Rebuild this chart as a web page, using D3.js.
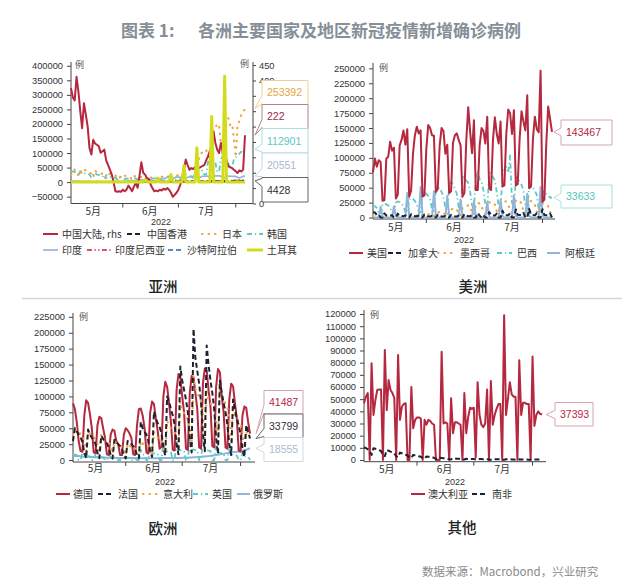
<!DOCTYPE html>
<html><head><meta charset="utf-8">
<script src="https://cdn.jsdelivr.net/npm/d3@7/dist/d3.min.js"></script>
<style>
html,body{margin:0;padding:0;background:#fff;}
svg{display:block;}
</style></head><body>
<svg id="chart" width="640" height="585"></svg>
<script>
// ================= DATA =================
const startDay = "2022-05-04";
const nDays = 95;
const monthLabels = ["5月", "6月", "7月"];
const yearLabel = "2022";

const asiaLeftTicks = [-50000, 0, 50000, 100000, 150000, 200000, 250000, 300000, 350000, 400000];
const asiaRightTicks = [0, 50, 100, 150, 200, 250, 300, 350, 400, 450];
const asiaRightShown = [0, 400, 450]; // the others sit under the value boxes
const americasTicks = [0, 25000, 50000, 75000, 100000, 125000, 150000, 175000, 200000, 225000, 250000];
const europeTicks = [0, 25000, 50000, 75000, 100000, 125000, 150000, 175000, 200000, 225000];
const otherTicks = [0, 10000, 20000, 30000, 40000, 50000, 60000, 70000, 80000, 90000, 100000, 110000, 120000];

// --- Asia ---
const chinaMainland = [ // rhs
  375,345,335,412,364,300,245,326,290,250,180,159,207,195,191,186,165,170,175,140,126,110,95,70,40,38,40,38,
  45,40,45,58,50,40,55,67,51,90,134,100,94,83,80,62,50,40,42,40,45,42,48,45,50,45,35,22,28,35,
  45,60,83,110,143,125,110,115,112,118,121,115,118,122,125,140,153,170,186,234,197,175,164,197,164,150,143,121,118,115,110,
  105,99,108,104,110,222];
const hongKong = [
  300,250,270,260,220,200,280,250,270,250,240,230,220,260,270,250,240,230,260,270,280,300,290,310,320,330,300,350,
  380,420,400,470,510,540,620,640,710,700,780,820,860,930,990,1010,1080,1120,1170,1250,1330,1420,1500,1630,1710,1790,1870,2030,2150,2240,
  2300,2500,2700,2400,2700,2900,3000,3100,2900,3100,3200,3300,3400,3300,3200,3500,3400,3600,3700,3800,4100,4200,4000,4300,4400,4200,4500,4700,4400,4100,4300,
  4600,4400,4500,4200,4700,4428];
const japan = [
  25000,41000,43000,38000,25000,20000,44000,42000,41000,37000,36000,28000,17000,40000,34000,32000,30000,29000,22000,14000,30000,27000,25000,23000,22000,18000,11000,24000,
  24000,22000,21000,19000,16000,9000,21000,19000,18000,17000,17000,15000,8000,19000,17000,16000,15000,16000,13000,8000,17000,18000,19000,20000,21000,18000,9000,22000,24000,23000,
  23000,26000,19000,13000,34000,36000,46000,51000,52000,40000,20000,76000,96000,103000,105000,111000,95000,53000,152000,181000,186000,200000,194000,129000,95000,196000,209000,220000,196000,200000,152000,
  86000,197000,210000,231000,238000,253392];
const korea = [
  38000,36000,35000,34000,20000,38000,35000,30000,29000,28000,26000,15000,30000,32000,26000,25000,23000,21000,10000,24000,23000,18000,17000,16000,15000,9000,14000,18000,
  13000,10000,13000,11000,10000,5000,13000,12000,9000,8000,7000,3400,7000,13000,10000,8000,7000,6000,3500,9000,9000,7000,7000,6000,6000,3000,9000,10000,9000,8000,
  10000,10000,6000,18000,19000,20000,19000,20000,12000,37000,40000,38000,35000,40000,26000,26000,70000,71000,68000,65000,68000,35000,36000,80000,88000,85000,73000,65000,44000,47000,80000,
  85000,92000,98000,105000,100000,112901];
const india = [
  3200,3300,3500,3800,3400,3200,2300,2900,2900,2800,2800,2500,2200,1600,2800,2300,2300,2100,2300,2200,2100,2000,2700,2600,2700,2800,2700,2300,
  2700,3700,4000,4000,4300,4500,4200,3700,5200,7200,7600,8300,8600,6600,6600,8800,12200,12800,12900,12800,12700,9900,12200,13300,17300,17000,15900,11700,14500,18800,
  17100,17000,16100,16100,13000,16200,18900,18800,18800,18200,16700,13600,16900,20100,20000,20500,20000,16900,15500,20600,21500,21900,21400,20300,16900,14800,18300,20600,20400,20400,19700,
  19700,17000,13700,17100,19900,20551];
const indonesia = [
  240,200,210,280,230,190,280,310,300,270,260,190,240,280,300,320,290,220,200,290,330,360,300,280,230,210,290,310,
  390,420,480,520,460,390,590,630,680,700,650,580,620,850,1100,1240,1180,1020,930,1300,1680,1910,1890,1500,1330,1800,2100,2300,2400,2000,
  2100,2450,2500,2000,2900,3000,3200,3400,2700,2600,3200,3400,3600,3500,3300,2700,3800,4600,5000,4800,4200,3900,3000,4500,4800,5300,5000,4500,3800,5200,5500,
  4900,5800,6200,6200,5700,5300];
const saudiArabia = [
  500,520,540,560,530,510,590,600,620,580,550,570,610,640,650,600,620,660,680,700,690,720,740,710,760,780,800,760,
  820,850,890,930,900,880,920,950,980,1010,960,930,990,1050,1100,1080,1020,990,1000,960,930,900,880,860,850,830,800,790,770,760,
  740,720,710,690,670,660,640,610,590,560,550,520,510,490,480,475,460,455,440,430,425,410,405,390,385,370,365,350,345,330,320,
  310,300,305,290,280,275];
const turkey = [
  0,0,0,0,0,0,0,0,0,0,0,0,0,0,0,0,0,0,0,0,0,0,0,0,0,0,0,0,
  0,0,0,0,0,0,0,0,0,0,0,0,8000,0,0,0,0,0,0,14000,0,0,0,0,0,0,26000,0,0,0,
  0,0,0,57000,0,0,0,0,0,0,118000,0,0,0,0,0,0,0,226000,0,0,0,0,0,0,364000,0,0,0,0,0,
  0,0,0,0,0,0];

// --- Americas ---
const usa = [
  75500,99000,85000,96000,93000,28000,29000,
  99000,102000,127000,112000,117000,32000,38000,
  121000,130000,146000,122000,148000,35000,45000,
  107000,138000,152000,141000,146000,35000,37000,
  115000,155000,150000,138000,137000,43000,48000,
  120000,150000,145000,107000,122000,41000,44000,
  125000,138000,141000,130000,121000,35000,41000,
  130000,185000,144000,108000,163000,46000,46000,
  121000,150000,145000,124000,169000,49000,46000,
  130000,168000,140000,124000,161000,52000,54000,
  140000,181000,175000,140000,180000,54000,56000,
  132000,178000,161000,146000,205000,49000,52000,
  132000,169000,148000,143000,246000,26000,30000,
  124000,186000,165000,143467];
const canada = [
  9000,8500,4000,5000,0,0,7000,3500,3000,2800,4000,0,0,6500,3000,2500,2300,3500,0,0,5500,2600,2200,2100,3000,0,0,4800,
  2400,2000,1900,2800,0,0,4500,2100,1800,1700,2600,0,0,4300,2000,1900,1800,3200,0,0,5500,2600,2400,2300,3800,0,0,7500,3200,0,
  3500,0,0,9000,3800,3500,3400,6500,0,0,11500,4200,3900,3800,7200,0,0,13500,4500,4200,4000,7500,0,0,14500,4400,4100,3900,7000,0,0,
  14000,4200,3900,3700,6500,0];
const mexico = [
  2500,2900,2600,1500,900,2700,3200,3100,2900,2700,1200,800,3000,3400,3200,3300,2800,1300,900,3500,4000,3800,3600,3400,1500,1100,4300,5000,
  5500,5300,4900,2400,1500,7200,8500,9100,9300,8900,3600,2200,11500,13200,14800,15100,13900,5200,3800,15800,18200,19500,20300,18600,7600,4900,21500,24800,23400,20600,
  9200,6100,22700,25400,26300,24900,21800,10200,7400,23700,27600,28300,26400,22500,11300,8100,25400,28100,29700,27200,24300,10600,7700,24100,26800,27500,25100,21700,9800,7100,20300,
  23400,22800,21600,18700,8900,6200];
const brazil = [
  18000,19000,16000,8000,6000,21000,24000,22000,20000,17000,9000,7000,25000,27000,26000,23000,19000,9500,7500,30000,33000,31000,28000,22000,11000,9000,38000,41000,
  40000,36000,30000,14000,11000,45000,48000,50000,43000,35000,15000,12000,52000,60000,55000,48000,40000,17000,13000,66000,72000,62000,58000,44000,20000,15000,70000,78000,64000,60000,
  45000,22000,16000,70000,75000,68000,62000,42000,19000,14000,72000,80000,85000,75000,104000,25000,17000,65000,70000,60000,55000,45000,18000,13000,52000,55000,50000,45000,38000,15000,11000,
  41000,45000,40000,38000,33000,33633];
const argentina = [
  0,0,0,0,18000,2000,0,0,0,0,0,19000,2500,0,0,0,0,0,41000,3000,0,0,0,0,0,51000,4000,0,
  0,0,0,0,44000,3500,0,0,0,0,0,36000,3000,0,0,0,0,0,30000,2500,0,0,0,0,0,27000,2000,0,0,0,
  0,0,25000,2000,0,0,0,0,0,30000,2500,0,0,0,0,0,37000,3000,0,0,0,0,0,40000,3200,0,0,0,0,0,51000,
  4000,0,0,0,0,0];

// --- Europe ---
const germany = [
  89000,80000,60000,30000,14000,13000,70000,94000,90000,72000,50000,12000,11000,55000,68000,66000,50000,35000,9000,8000,40000,48000,46000,30000,25000,8000,8000,40000,
  50000,47000,42000,35000,9000,8000,55000,80000,81000,70000,50000,12000,10000,75000,92000,88000,65000,45000,18000,21000,100000,123000,115000,90000,60000,16000,15000,110000,135000,130000,
  100000,75000,18000,16000,105000,132000,130000,105000,80000,20000,18000,120000,144000,140000,110000,85000,22000,20000,115000,143000,138000,100000,75000,20000,18000,95000,120000,116000,90000,65000,15000,
  13000,70000,84000,82000,60000,41487];
const france = [
  30000,50000,45000,40000,36000,28000,12000,3000,48000,40000,35000,32000,25000,11000,3000,38000,33000,30000,26000,20000,8000,2500,32000,28000,25000,22000,17000,7000,
  2500,30000,27000,25000,22000,17000,8000,3000,60000,50000,45000,40000,30000,14000,5000,76000,65000,58000,52000,42000,20000,7000,100000,92000,80000,70000,55000,25000,9000,147000,
  125000,110000,95000,75000,35000,12000,206000,160000,140000,120000,90000,40000,14000,180000,150000,125000,105000,80000,35000,10000,125000,105000,90000,75000,55000,25000,8000,95000,80000,65000,55000,
  40000,18000,5000,55000,45000,33799];
const italy = [
  40000,55000,47000,44000,41000,38000,30000,14000,48000,41000,38000,36000,33000,26000,12000,40000,34000,32000,30000,27000,22000,10000,30000,26000,24000,23000,21000,16000,
  7500,26000,22000,21000,19000,18000,14000,6500,30000,26000,24000,22000,21000,16000,8000,44000,37000,35000,33000,30000,24000,11000,62000,53000,50000,46000,43000,34000,16000,92000,
  78000,74000,69000,64000,51000,23000,132000,112000,106000,99000,92000,72000,33000,112000,95000,90000,84000,78000,62000,28000,119000,101000,95000,89000,83000,65000,30000,81000,69000,65000,61000,
  57000,45000,20000,45000,38000,36000];
const uk = [
  9000,8500,7800,0,0,12000,7000,6500,6000,5800,0,0,10500,5200,4800,4600,4300,0,0,9000,4500,4200,4000,3800,0,0,8000,4100,
  3900,3700,3500,0,0,3000,0,0,16000,9000,8500,0,0,22000,11000,10500,10000,9800,0,0,28000,14000,13500,13000,12500,0,0,30000,16000,15500,
  15000,14500,0,0,32000,17000,16500,16000,15500,0,0,30000,16000,15500,15000,14000,0,0,24000,12000,11500,11000,10000,0,0,17000,8500,8000,7500,7000,0,
  0,12000,6000,5800,5500,0];
const russia = [
  6700,6550,6380,6240,5930,5640,5420,5230,5080,4920,4790,4610,4480,4370,4220,4090,3990,3880,3810,3720,3650,3580,3520,3470,3410,3380,3320,3290,
  3260,3220,3190,3150,3120,3080,3050,3020,3000,2980,2960,2940,2950,2970,3000,3020,3050,3080,3100,3130,3150,3180,3200,3230,3260,3290,3320,3350,3380,3420,
  3500,3610,3690,3820,3940,4120,4290,4510,4690,4960,5180,5510,5790,6120,6430,6810,7190,7620,7980,8530,8970,9520,9980,10540,10960,11530,11970,12420,12830,13190,13640,
  14120,14730,15480,16320,17410,18555];

// --- Other ---
const australia = [
  46600,52000,55000,0,79500,37000,49000,57500,58000,58000,0,90400,41000,65700,57500,55000,51000,0,86300,33000,43800,46000,46600,0,0,60000,26000,33000,
  35000,35000,34000,0,33000,29000,33000,32000,30000,29000,0,0,0,89000,30000,31000,30000,0,50700,22000,31000,31000,30000,29000,0,55000,22000,35000,43000,42000,
  43000,2000,64000,37000,29000,27000,30000,58000,0,65000,29000,37000,42000,46000,46000,0,119000,37000,50000,64000,54000,52000,52000,0,82000,37000,47000,47000,46000,46000,0,
  85000,28000,37000,40000,38000,37393];
const southAfrica = [
  10500,9800,8900,7600,4200,9600,9300,8800,8100,7400,3900,3100,8200,7600,6900,6300,5600,3000,2400,6100,5500,4800,4300,3700,2000,1600,4200,3800,
  3400,3000,2700,1400,1100,2900,2600,2300,2000,1800,900,700,1900,1700,1500,1300,1200,600,500,1400,1200,1100,1000,900,450,380,1000,900,850,800,
  750,400,300,800,750,700,650,600,300,250,700,650,620,580,550,280,230,620,580,540,500,470,240,200,550,510,480,450,420,220,180,
  500,470,440,410,380,190];

// ================= STYLE =================
const COL = {red:"#b5283f", black:"#1e2230", orange:"#f0a43a", teal:"#5ccac3", lblue:"#8fb5da",
             pink:"#e0506a", blue:"#5a86c5", yellow:"#d3dc1c"};
const STY = {
  solid:{dash:null, w:2},
  thick:{dash:null, w:3},
  thin:{dash:null, w:1.6},
  dashed:{dash:"5,3", w:2},
  dots:{dash:"0.5,6", w:2.2, cap:"round"},
  dashdot:{dash:"5,3,1.2,3", w:1.8},
  dashdotdot:{dash:"5,2.5,1.2,2.5,1.2,2.5", w:1.8}
};
const NUMFONT = "'Liberation Sans', Arial, sans-serif";
const CJKFONT = "'Noto Sans CJK SC', 'Noto Sans', sans-serif";

const svg = d3.select("#chart");
const parseDay = d3.timeParse("%Y-%m-%d");
const dates = d3.range(nDays).map(i => d3.timeDay.offset(parseDay(startDay), i));
const monthStarts = [new Date(2022,5,1), new Date(2022,6,1), new Date(2022,7,1)];
const monthMids = [new Date(2022,4,16), new Date(2022,5,15,12), new Date(2022,6,16)];

// ================= TITLE =================
svg.append("text").attr("x",121).attr("y",37).attr("font-family",CJKFONT).attr("font-size",17)
  .attr("font-weight",700).attr("fill","#868e97").text("图表 1:");
svg.append("text").attr("x",198).attr("y",37).attr("font-family",CJKFONT).attr("font-size",17)
  .attr("font-weight",700).attr("fill","#868e97").text("各洲主要国家及地区新冠疫情新增确诊病例");

svg.append("line").attr("x1",22).attr("x2",622).attr("y1",298.5).attr("y2",298.5)
  .attr("stroke","#d6d6d6").attr("stroke-width",1.5);

svg.append("text").attr("x",422).attr("y",576).attr("font-family",CJKFONT).attr("font-size",11.5)
  .attr("fill","#8a8a8a").text("数据来源：Macrobond，兴业研究");

// ================= PANEL =================
function styleLine(sel, s){
  const st = STY[s.style];
  sel.attr("fill","none").attr("stroke",s.color).attr("stroke-width",st.w)
     .attr("stroke-linejoin","round").attr("stroke-linecap",st.cap || "butt");
  if (st.dash) sel.attr("stroke-dasharray",st.dash);
  return sel;
}

function drawPanel(p){
  const g = svg.append("g");
  const x = d3.scaleTime().domain([dates[0], dates[nDays-1]]).range([p.x0, p.x1]);
  const y = d3.scaleLinear().domain(p.yDom).range([p.yB, p.yT]);
  const y2 = p.rDom ? d3.scaleLinear().domain(p.rDom).range([p.yB, p.yT]) : null;

  // left axis
  const ax = g.append("g").attr("transform",`translate(${p.x0},0)`)
    .call(d3.axisLeft(y).tickValues(p.ticks).tickSize(4).tickSizeOuter(0).tickPadding(4).tickFormat(d3.format("d")));
  ax.select(".domain").remove();
  ax.selectAll("text").attr("font-family",NUMFONT).attr("font-size",9.3).attr("fill","#333");
  ax.selectAll("line").attr("stroke","#444");
  g.append("line").attr("x1",p.x0).attr("x2",p.x0).attr("y1",p.yT).attr("y2",p.yB).attr("stroke","#444");

  if (y2){
    const ar = g.append("g").attr("transform",`translate(${p.xE},0)`)
      .call(d3.axisRight(y2).tickValues(p.rTicks).tickSize(3).tickSizeOuter(0).tickPadding(3)
        .tickFormat(d => p.rShown.includes(d) ? d3.format("d")(d) : ""));
    ar.select(".domain").remove();
    ar.selectAll("text").attr("font-family",NUMFONT).attr("font-size",9.3).attr("fill","#333");
    ar.selectAll("line").attr("stroke","#444");
    g.append("line").attr("x1",p.xE).attr("x2",p.xE).attr("y1",p.yT).attr("y2",p.yB).attr("stroke","#444");
    g.append("text").attr("x",p.unitR[0]).attr("y",p.unitR[1]).attr("font-family",CJKFONT)
      .attr("font-size",9).attr("fill","#555").text("例");
  }
  g.append("text").attr("x",p.unitL[0]).attr("y",p.unitL[1]).attr("font-family",CJKFONT)
    .attr("font-size",9).attr("fill","#555").text("例");

  // x axis
  g.append("line").attr("x1",p.x0).attr("x2",p.xE).attr("y1",p.yB).attr("y2",p.yB).attr("stroke","#444");
  g.selectAll(null).data(monthStarts).join("line")
    .attr("x1",d=>x(d)).attr("x2",d=>x(d)).attr("y1",p.yB).attr("y2",p.yB+4).attr("stroke","#444");
  g.selectAll(null).data(monthMids).join("text")
    .attr("x",d=>x(d)).attr("y",p.mY).attr("text-anchor","middle")
    .attr("font-family",CJKFONT).attr("font-size",10).attr("fill","#333")
    .text((d,i)=>monthLabels[i]);
  g.append("text").attr("x",p.yearX).attr("y",p.yearY).attr("text-anchor","middle")
    .attr("font-family",NUMFONT).attr("font-size",9).attr("fill","#333").text(yearLabel);

  // series
  p.series.forEach(s=>{
    const ys = s.rhs ? y2 : y;
    const line = d3.line().x((d,i)=>x(dates[i])).y(d=>ys(d));
    styleLine(g.append("path").datum(s.data).attr("d",line), s);
  });

  // legend
  p.legend.forEach(l=>{
    const s = p.series.find(q=>q.name===l.name);
    styleLine(g.append("path").attr("d",`M${l.s0},${l.y}H${l.s1}`), s);
    g.append("text").attr("x",l.t).attr("y",l.y).attr("dy","0.35em")
      .attr("font-family",CJKFONT).attr("font-size",10).attr("fill","#333").text(l.label);
  });

  // panel title
  g.append("text").attr("x",p.title[1]).attr("y",p.title[2]).attr("text-anchor","middle")
    .attr("font-family",CJKFONT).attr("font-size",14.5).attr("font-weight",500).attr("fill","#222").text(p.title[0]);

  // callouts
  p.callouts.forEach(c=>{
    const s = p.series.find(q=>q.name===c.name);
    const last = s.data[s.data.length-1];
    const ty = (s.rhs ? y2 : y)(last);
    const by = Math.max(c.y0+5, Math.min(c.y1-5, ty));
    const path = `M${c.x0},${c.y0}H${c.x1}V${c.y1}H${c.x0}V${by+4}L${c.tip},${ty}L${c.x0},${by-4}Z`;
    g.append("path").attr("d",path).attr("fill","#fff").attr("stroke",c.border).attr("stroke-width",1);
    g.append("text").attr("x",c.x0+5).attr("y",(c.y0+c.y1)/2).attr("dy","0.36em")
      .attr("font-family",NUMFONT).attr("font-size",10.5).attr("fill",c.color).text(d3.format("d")(last));
  });
}

// ---- Asia ----
drawPanel({
  x0:71, x1:245, xE:253, yT:62, yB:203.5,
  yDom:[-73500, 413000], rDom:[0,460], ticks:asiaLeftTicks, rTicks:asiaRightTicks, rShown:asiaRightShown,
  unitL:[75,68], unitR:[240,67], mY:214.5, yearX:161, yearY:225,
  title:["亚洲",163,292],
  series:[
    {name:"korea", data:korea, color:COL.teal, style:"dashdot"},
    {name:"japan", data:japan, color:COL.orange, style:"dots"},
    {name:"india", data:india, color:COL.lblue, style:"thin"},
    {name:"indonesia", data:indonesia, color:COL.pink, style:"dashdotdot"},
    {name:"saudi", data:saudiArabia, color:COL.blue, style:"dashed"},
    {name:"hk", data:hongKong, color:COL.black, style:"dashed"},
    {name:"china", data:chinaMainland, color:COL.red, style:"solid", rhs:true},
    {name:"turkey", data:turkey, color:COL.yellow, style:"thick"}
  ],
  legend:[
    {name:"china", label:"中国大陆, rhs", s0:43, s1:58, t:62, y:234},
    {name:"hk", label:"中国香港", s0:127, s1:143, t:147, y:234},
    {name:"japan", label:"日本", s0:202, s1:217, t:222, y:234},
    {name:"korea", label:"韩国", s0:247, s1:263, t:267, y:234},
    {name:"india", label:"印度", s0:43, s1:58, t:62, y:250},
    {name:"indonesia", label:"印度尼西亚", s0:87, s1:111, t:115, y:250},
    {name:"saudi", label:"沙特阿拉伯", s0:168, s1:183, t:187, y:250},
    {name:"turkey", label:"土耳其", s0:247, s1:263, t:267, y:250}
  ],
  callouts:[
    {name:"japan", x0:262, x1:308, y0:80.5, y1:104.5, tip:255, color:"#e6a43e", border:"#f0cf98"},
    {name:"china", x0:262, x1:308, y0:104.5, y1:128.5, tip:255, color:"#9e2a42", border:"#a88890"},
    {name:"korea", x0:262, x1:308, y0:128.5, y1:153, tip:255, color:"#5cc8c2", border:"#a9e1dd"},
    {name:"india", x0:262, x1:308, y0:153, y1:177.5, tip:255, color:"#a9b9cf", border:"#c7d3e3"},
    {name:"hk", x0:262, x1:308, y0:177.5, y1:202, tip:255, color:"#333", border:"#666"}
  ]
});

// ---- Americas ----
drawPanel({
  x0:373, x1:552, xE:555, yT:63, yB:219,
  yDom:[-2500, 259000], ticks:americasTicks,
  unitL:[379,71], mY:230.5, yearX:464, yearY:243,
  title:["美洲",473,292],
  series:[
    {name:"brazil", data:brazil, color:COL.teal, style:"dashdot"},
    {name:"mexico", data:mexico, color:COL.orange, style:"dots"},
    {name:"argentina", data:argentina, color:COL.lblue, style:"solid"},
    {name:"canada", data:canada, color:COL.black, style:"dashed"},
    {name:"usa", data:usa, color:COL.red, style:"solid"}
  ],
  legend:[
    {name:"usa", label:"美国", s0:349, s1:363, t:367, y:253},
    {name:"canada", label:"加拿大", s0:388, s1:403, t:408, y:253},
    {name:"mexico", label:"墨西哥", s0:438, s1:453, t:460, y:253},
    {name:"brazil", label:"巴西", s0:497, s1:512, t:517, y:253},
    {name:"argentina", label:"阿根廷", s0:547, s1:560, t:565, y:253}
  ],
  callouts:[
    {name:"usa", x0:561, x1:612, y0:120, y1:145, tip:554, color:"#b5283f", border:"#d7a4ae"},
    {name:"brazil", x0:561, x1:612, y0:185, y1:208, tip:554, color:"#55c4be", border:"#a9e1dd"}
  ]
});

// ---- Europe ----
drawPanel({
  x0:73, x1:250, xE:255, yT:313, yB:462,
  yDom:[-3000, 231000], ticks:europeTicks,
  unitL:[79,320], mY:472, yearX:165, yearY:484.5,
  title:["欧洲",163,534],
  series:[
    {name:"russia", data:russia, color:COL.lblue, style:"solid"},
    {name:"uk", data:uk, color:COL.teal, style:"dashdot"},
    {name:"germany", data:germany, color:COL.red, style:"solid"},
    {name:"italy", data:italy, color:COL.orange, style:"dots"},
    {name:"france", data:france, color:COL.black, style:"dashed"}
  ],
  legend:[
    {name:"germany", label:"德国", s0:56, s1:70, t:73, y:494},
    {name:"france", label:"法国", s0:98, s1:113, t:118, y:494},
    {name:"italy", label:"意大利", s0:143, s1:157, t:163, y:494},
    {name:"uk", label:"英国", s0:193, s1:208, t:212, y:494},
    {name:"russia", label:"俄罗斯", s0:237, s1:250, t:253, y:494}
  ],
  callouts:[
    {name:"germany", x0:264, x1:303, y0:390.5, y1:414, tip:256, color:"#b5283f", border:"#d7a4ae"},
    {name:"france", x0:264, x1:303, y0:414, y1:437.5, tip:256, color:"#333", border:"#666"},
    {name:"russia", x0:264, x1:303, y0:437.5, y1:461.5, tip:256, color:"#a9bccd", border:"#cfd9e4"}
  ]
});

// ---- Other ----
drawPanel({
  x0:364, x1:542, xE:546, yT:310, yB:461.7,
  yDom:[-1400, 123300], ticks:otherTicks,
  unitL:[370,318], mY:472.5, yearX:455, yearY:484.5,
  title:["其他",462,533],
  series:[
    {name:"australia", data:australia, color:COL.red, style:"solid"},
    {name:"southafrica", data:southAfrica, color:COL.black, style:"dashed"}
  ],
  legend:[
    {name:"australia", label:"澳大利亚", s0:411, s1:425, t:428, y:494},
    {name:"southafrica", label:"南非", s0:472, s1:487, t:492, y:494}
  ],
  callouts:[
    {name:"australia", x0:555, x1:593, y0:402.5, y1:426, tip:546, color:"#b5283f", border:"#d7a4ae"}
  ]
});
</script>
</body></html>
